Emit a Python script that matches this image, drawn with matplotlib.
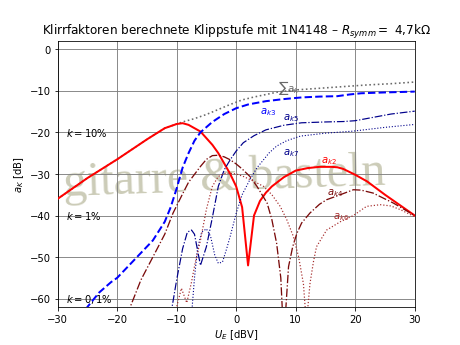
import matplotlib
matplotlib.use("Agg")
import matplotlib.pyplot as plt
import numpy as np

# ---- data ----
k2_x = [-30, -25, -20, -15, -12, -10, -9, -8, -6, -4, -3, -2, -1, 0, 1, 2, 3, 4, 5, 6, 8, 10, 12, 14, 16, 17, 18, 20, 22, 25, 28, 30]
k2_y = [-36, -31, -26.5, -21.7, -19, -18, -17.8, -18.2, -19.8, -23, -25, -27.5, -30, -33, -38, -52, -40, -36.5, -34.5, -33, -30.8, -29.2, -28.6, -28.3, -28.3, -28.4, -28.8, -30.2, -31.8, -35, -38, -40]

sum_x = [-30, -25, -20, -15, -12, -10, -9, -7, -5, -3, -1, 1, 3, 5, 7, 10, 14, 18, 22, 26, 30]
sum_y = [-36, -31, -26.5, -21.7, -19, -18, -17.5, -16.7, -15.7, -14.5, -13.3, -12.2, -11.5, -10.9, -10.3, -9.8, -9.4, -9.0, -8.6, -8.3, -7.9]

k3_x = [-26, -25, -23, -21, -20, -18, -16, -14, -12, -11, -10, -9, -8, -7, -6, -4, -2, 0, 2, 5, 8, 11, 14, 17, 19, 21, 25, 30]
k3_y = [-65, -62, -58.5, -56, -55, -52, -49, -46, -41.5, -38, -33.5, -28.5, -25, -22, -20, -17.5, -15.6, -14.2, -13.3, -12.5, -12, -11.6, -11.4, -11.3, -10.9, -10.6, -10.4, -10.2]

k5_x = [-11, -10, -9, -8.2, -7.5, -7, -6, -5, -4, -3, -2, -1, 0, 1.2, 3, 5, 8, 11, 15, 18, 20, 23, 26, 30]
k5_y = [-64, -55.5, -48, -44, -43.5, -44.5, -52, -47.5, -40.5, -33, -29, -26.6, -24.5, -22.5, -20.8, -19.4, -18.3, -17.7, -17.5, -17.4, -17.2, -16.4, -15.6, -14.9]

k7_x = [-7.5, -7, -6.5, -5.8, -5, -4.3, -3.6, -3, -2.3, -1.6, -1, 0, 1, 2.3, 3.5, 4.6, 5.5, 6.8, 8.5, 10.8, 15, 19.7, 25, 30]
k7_y = [-64, -55, -48, -44, -43.2, -45, -49.5, -51.5, -51.2, -48, -45, -39.5, -35, -31.4, -28.5, -26.6, -25, -23.3, -22, -20.9, -20.2, -19.7, -18.8, -18.1]

k4_x = [-18.2, -17.8, -16, -14, -12, -10.6, -9, -8, -6, -5, -4, -3, -2, -1, 0, 1, 2.3, 3.5, 5.2, 6, 6.8, 7.5, 8.0, 8.8, 9.5, 10.2, 11, 12.4, 14, 15.2, 17.5, 19.7, 21, 23, 26.4, 30]
k4_y = [-64, -62, -55.5, -50, -44.5, -39.4, -34.8, -32, -28.2, -26.5, -25.6, -25.5, -25.9, -26.6, -27.6, -28.8, -30.6, -33, -37, -41, -46.7, -55, -70, -52.3, -47.5, -44.3, -41.8, -39.4, -37.3, -36.2, -35, -33.8, -33.9, -34.6, -37, -40]

k6_x = [-10.5, -10, -9.2, -8.3, -7.5, -6.9, -6, -5, -4, -3, -2, -1.6, 0, 1.2, 3, 4.6, 6, 7.4, 8.5, 9.6, 10.5, 11.3, 11.8, 12.4, 13, 13.5, 15.2, 17.5, 19.7, 21.9, 24.2, 26, 27.6, 30]
k6_y = [-64, -62, -57.5, -61, -56, -51.5, -46, -38.5, -33, -30.6, -29.9, -29.8, -30, -30.6, -31.8, -33, -35, -37.8, -41, -45, -50, -56.4, -66, -56.4, -51, -47.5, -43.5, -41.5, -40, -37.8, -37.4, -37.7, -38.6, -40.3]

k_levels = [-20, -40, -60]
k_texts = [r"$k = 10\%$", r"$k = 1\%$", r"$k = 0,1\%$"]

x_ticks = [-30, -20, -10, 0, 10, 20, 30]
y_ticks = [0, -10, -20, -30, -40, -50, -60]

fig, ax = plt.subplots(figsize=(6.4, 4.8), dpi=72)

ax.text(-2.0, -33.8, "gitarre & basteln", family="Liberation Serif", fontsize=48,
        color=(0.80, 0.80, 0.72), ha="center", va="baseline", rotation=2,
        rotation_mode="anchor", zorder=0)

ax.grid(True, color="gray", linewidth=0.9, zorder=1)
ax.set_axisbelow(True)

ax.plot(sum_x, sum_y, color="dimgray", linestyle=":", linewidth=1.6, zorder=3)
ax.plot(k2_x, k2_y, color="red", linestyle="-", linewidth=2.0, zorder=4)
ax.plot(k3_x, k3_y, color="blue", linestyle="--", linewidth=2.0, zorder=4)
ax.plot(k5_x, k5_y, color="darkblue", linestyle="-.", linewidth=1.2, zorder=4)
ax.plot(k7_x, k7_y, color="darkblue", linestyle=":", linewidth=1.1, zorder=4)
ax.plot(k4_x, k4_y, color="#7a0a0a", linestyle="-.", linewidth=1.3, zorder=4)
ax.plot(k6_x, k6_y, color="brown", linestyle=":", linewidth=1.2, zorder=4)

ax.text(7.1, -9.3, r"$\sum a_k$", color="dimgray", ha="left", va="center")
ax.text(4.0, -15.1, r"$a_{k3}$", color="blue", ha="left", va="center")
ax.text(7.9, -16.4, r"$a_{k5}$", color="darkblue", ha="left", va="center")
ax.text(7.9, -24.8, r"$a_{k7}$", color="darkblue", ha="left", va="center")
ax.text(14.2, -26.8, r"$a_{k2}$", color="red", ha="left", va="center")
ax.text(15.2, -34.4, r"$a_{k4}$", color="#7a0a0a", ha="left", va="center")
ax.text(16.2, -40.3, r"$a_{k6}$", color="brown", ha="left", va="center")

for lv, tx in zip(k_levels, k_texts):
    ax.text(-28.6, lv, tx, ha="left", va="center")

ax.set_xlim(-30, 30)
ax.set_ylim(-62, 2)
ax.set_xticks(x_ticks)
ax.set_yticks(y_ticks)
ax.set_xlabel(r"$U_E$ [dBV]")
ax.set_ylabel(r"$a_K$ [dB]")
ax.set_title(r"Klirrfaktoren berechnete Klippstufe mit 1N4148 – $R_{symm} =$ 4,7kΩ")

fig.savefig("out.png", dpi=72)
